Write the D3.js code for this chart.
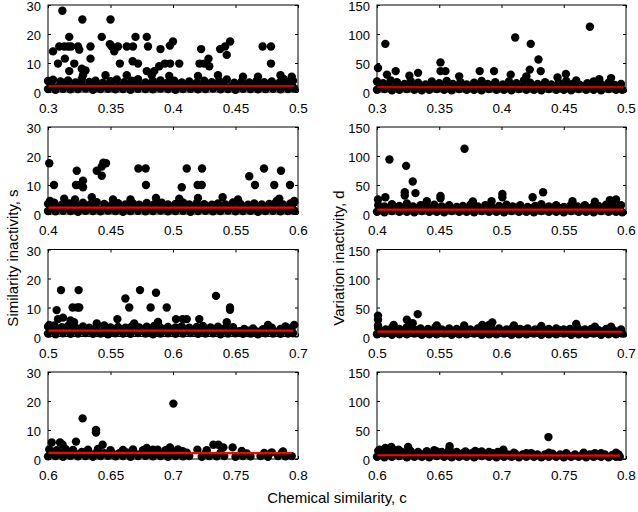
<!DOCTYPE html>
<html><head><meta charset="utf-8">
<script src="https://cdn.jsdelivr.net/npm/d3@7"></script>
<style>
body{margin:0;background:#fff}
svg{display:block}
text{font-family:Arial,"Liberation Sans",Helvetica,sans-serif}
</style>
</head><body>
<svg id="chart" width="638" height="512"></svg>
<script>
// ---------- axes / ticks ----------
const rowDomains = [[0.3,0.5],[0.4,0.6],[0.5,0.7],[0.6,0.8]];
const xTicks = [[0.3,0.35,0.4,0.45,0.5],[0.4,0.45,0.5,0.55,0.6],[0.5,0.55,0.6,0.65,0.7],[0.6,0.65,0.7,0.75,0.8]];
const xTickLabels = [["0.3","0.35","0.4","0.45","0.5"],["0.4","0.45","0.5","0.55","0.6"],["0.5","0.55","0.6","0.65","0.7"],["0.6","0.65","0.7","0.75","0.8"]];
const sTicks = [0,10,20,30];
const dTicks = [0,50,100,150];
const sMax = 30, dMax = 150;
const xTitle = "Chemical similarity, c";
const sTitle = "Similarity inactivity, s";
const dTitle = "Variation inactivity, d";

// ---------- fitted lines [x0,y0,x1,y1] ----------
const fitS = [[0.300,2.0,0.497,2.0],[0.400,2.2,0.597,2.2],[0.500,2.0,0.696,2.0],[0.600,2.1,0.795,2.0]];
const fitD = [[0.300,8.5,0.498,8.5],[0.400,7.5,0.598,7.5],[0.500,8.5,0.697,8.2],[0.600,6.5,0.795,5.8]];

// ---------- similarity inactivity s ----------
const s1 = [[0.300,1.0],[0.306,0.8],[0.312,1.1],[0.318,0.9],[0.324,1.0],[0.330,1.2],[0.336,0.8],[0.342,1.0],[0.348,1.1],[0.354,0.9],[0.360,1.0],[0.366,0.8],[0.372,1.1],[0.378,1.0],[0.384,0.9],[0.390,1.2],[0.396,1.0],[0.402,0.8],[0.408,1.0],[0.414,1.1],[0.420,0.9],[0.426,1.0],[0.432,1.2],[0.438,0.9],[0.444,1.0],[0.450,0.8],[0.456,1.1],[0.462,1.0],[0.468,0.9],[0.474,1.0],[0.480,1.1],[0.486,0.9],[0.492,1.0],[0.497,1.2],
[0.303,2.3],[0.309,2.1],[0.315,2.4],[0.321,2.2],[0.327,2.5],[0.333,2.0],[0.339,2.3],[0.345,2.2],[0.351,2.4],[0.357,2.1],[0.363,2.3],[0.369,2.5],[0.375,2.2],[0.381,2.0],[0.387,2.4],[0.393,2.2],[0.399,2.3],[0.405,2.1],[0.411,2.4],[0.417,2.2],[0.423,2.0],[0.429,2.3],[0.435,2.5],[0.441,2.2],[0.447,2.1],[0.453,2.4],[0.459,2.2],[0.465,2.0],[0.471,2.3],[0.477,2.2],[0.483,2.4],[0.489,2.1],[0.495,2.3],
[0.300,3.8],[0.304,4.2],[0.310,3.6],[0.316,4.0],[0.322,3.3],[0.327,4.5],[0.333,3.5],[0.338,3.9],[0.344,3.2],[0.350,3.7],[0.355,4.3],[0.361,3.4],[0.367,3.9],[0.372,4.4],[0.378,3.3],[0.384,3.8],[0.390,4.0],[0.396,3.4],[0.401,3.9],[0.407,3.3],[0.413,3.6],[0.419,3.2],[0.425,3.9],[0.431,3.4],[0.437,3.8],[0.443,4.3],[0.449,3.2],[0.455,3.6],[0.461,3.3],[0.467,3.9],[0.473,3.4],[0.479,3.6],[0.485,3.2],[0.491,3.5],[0.496,3.9],
[0.3115,28],[0.304,14],[0.3275,25],[0.350,25],[0.317,19],[0.343,19],[0.370,19],[0.379,19],[0.309,15.7],[0.313,15.7],[0.316,15.7],[0.3185,15.7],[0.324,15.7],[0.325,14.6],[0.334,15.7],[0.3495,16.5],[0.351,15.7],[0.353,14],[0.356,15.7],[0.363,15.7],[0.368,15.7],[0.380,15.7],[0.390,14.8],[0.3975,16],[0.400,17.4],[0.4225,14.8],[0.4377,14.8],[0.4417,15.7],[0.443,12.8],[0.4457,17.4],[0.4717,15.7],[0.4784,15.7],[0.4784,9.8],[0.3135,11.5],[0.308,9.8],[0.321,9.8],[0.317,7.2],[0.327,8],[0.330,7.4],[0.334,11.5],[0.3575,9.8],[0.3677,10.6],[0.372,9.8],[0.379,7.2],[0.385,7.2],[0.389,8.9],[0.3935,9.8],[0.3977,9.8],[0.405,9.8],[0.4212,9.8],[0.425,9.8],[0.4284,11.5],[0.429,8.9],[0.486,5.8],[0.4885,4.5],[0.328,5.8],[0.346,5.8],[0.363,5.8],[0.383,5.8],[0.397,5.5],[0.420,5.5],[0.436,5.8],[0.456,5.3],[0.468,5.3],[0.495,5.3]];

const s2 = [[0.400,1.0],[0.406,0.9],[0.412,1.1],[0.418,1.0],[0.424,0.8],[0.430,1.1],[0.436,1.0],[0.442,0.9],[0.448,1.2],[0.454,1.0],[0.460,0.8],[0.466,1.0],[0.472,1.1],[0.478,0.9],[0.484,1.0],[0.490,1.2],[0.496,0.9],[0.502,1.0],[0.508,1.1],[0.514,0.8],[0.520,1.0],[0.526,1.1],[0.532,0.9],[0.538,1.0],[0.544,1.2],[0.550,0.9],[0.556,1.0],[0.562,1.1],[0.568,0.8],[0.574,1.0],[0.580,1.1],[0.586,0.9],[0.592,1.0],[0.597,1.1],
[0.403,2.2],[0.409,2.4],[0.415,2.1],[0.421,2.3],[0.427,2.5],[0.433,2.2],[0.439,2.0],[0.445,2.4],[0.451,2.2],[0.457,2.3],[0.463,2.1],[0.469,2.4],[0.475,2.2],[0.481,2.0],[0.487,2.3],[0.493,2.5],[0.499,2.2],[0.505,2.1],[0.511,2.4],[0.517,2.2],[0.523,2.0],[0.529,2.3],[0.535,2.2],[0.541,2.4],[0.547,2.1],[0.553,2.3],[0.559,2.2],[0.565,2.0],[0.571,2.4],[0.577,2.2],[0.583,2.3],[0.589,2.1],[0.595,2.4],
[0.400,3.5],[0.405,3.9],[0.411,3.2],[0.417,3.6],[0.422,3.3],[0.428,3.9],[0.434,3.4],[0.439,4.1],[0.445,3.5],[0.451,3.2],[0.456,3.7],[0.462,3.3],[0.468,3.6],[0.473,3.2],[0.479,3.8],[0.485,3.4],[0.491,3.9],[0.496,3.3],[0.502,3.5],[0.508,4.0],[0.513,3.3],[0.519,3.7],[0.525,3.4],[0.531,3.2],[0.536,3.6],[0.542,3.3],[0.548,4.0],[0.554,3.5],[0.560,3.2],[0.565,3.6],[0.571,3.3],[0.577,3.5],[0.582,3.8],[0.588,3.3],[0.594,3.6],[0.597,4.0],
[0.401,17.5],[0.4048,10],[0.423,14.9],[0.4224,10],[0.4256,10],[0.428,11.5],[0.428,9.2],[0.4216,5],[0.439,14.9],[0.443,16.4],[0.4443,17.7],[0.4464,17.5],[0.443,13.2],[0.4723,15.7],[0.4781,15.7],[0.4784,10],[0.507,9.2],[0.511,15.7],[0.5197,10],[0.523,10],[0.5232,15.7],[0.561,13],[0.5656,10],[0.5728,15.7],[0.581,10],[0.5864,14.9],[0.5936,10],[0.4016,4.5],[0.435,5.8],[0.4864,5.5],[0.5397,5.8],[0.413,5.3],[0.452,5],[0.466,5],[0.505,5.3],[0.520,5.5],[0.552,5],[0.585,5.3],[0.597,4.5],[0.583,4.5]];

const s3 = [[0.500,1.0],[0.506,0.8],[0.512,1.1],[0.518,0.9],[0.524,1.0],[0.530,1.2],[0.536,0.9],[0.542,1.0],[0.548,0.8],[0.554,1.1],[0.560,1.0],[0.566,0.9],[0.572,1.2],[0.578,1.0],[0.584,0.8],[0.590,1.0],[0.596,1.1],[0.602,0.9],[0.608,1.0],[0.614,1.2],[0.620,0.9],[0.626,1.0],[0.632,1.1],[0.638,0.8],[0.644,1.0],[0.650,1.1],[0.656,0.9],[0.662,1.0],[0.668,0.8],[0.674,1.1],[0.680,1.0],[0.686,0.9],[0.692,1.0],[0.696,1.1],
[0.503,2.2],[0.509,2.4],[0.515,2.0],[0.521,2.3],[0.527,2.1],[0.533,2.4],[0.539,2.2],[0.545,2.0],[0.551,2.3],[0.557,2.1],[0.563,2.4],[0.569,2.2],[0.575,2.0],[0.581,2.3],[0.587,2.2],[0.593,2.4],[0.599,2.1],[0.605,2.3],[0.611,2.0],[0.617,2.2],[0.623,2.4],[0.629,2.1],[0.635,2.3],[0.641,2.0],[0.647,2.2],[0.653,1.8],[0.660,2.0],[0.667,1.7],[0.674,2.0],[0.681,1.8],[0.688,2.1],[0.695,1.9],
[0.500,3.4],[0.505,3.8],[0.511,3.2],[0.516,3.6],[0.522,3.1],[0.528,3.5],[0.533,3.0],[0.539,3.4],[0.545,3.8],[0.550,3.1],[0.556,3.3],[0.562,3.0],[0.567,3.5],[0.573,3.1],[0.579,3.4],[0.585,3.6],[0.590,3.0],[0.596,3.3],[0.602,3.1],[0.607,3.5],[0.613,3.0],[0.619,3.3],[0.624,3.6],[0.630,3.1],[0.636,3.4],[0.642,3.0],[0.648,3.2],[0.657,2.6],[0.664,2.8],[0.672,2.5],[0.679,3.0],[0.686,2.6],[0.693,2.8],
[0.5104,16],[0.5069,9.1],[0.5197,10],[0.5235,10],[0.525,10],[0.5245,16],[0.5208,4.9],[0.5619,13.1],[0.565,10],[0.5736,16],[0.5821,10],[0.5864,15.1],[0.595,10],[0.6344,14],[0.6456,10],[0.6456,9.2],[0.643,4.9],[0.501,4],[0.5555,6],[0.6024,6],[0.6077,6],[0.611,6],[0.621,6],[0.508,6],[0.512,6.5],[0.518,5.5],[0.539,4.5],[0.569,4.5],[0.588,5],[0.676,4],[0.690,3.5],[0.697,4]];

const s4 = [[0.600,0.9],[0.606,1.0],[0.612,0.8],[0.618,1.1],[0.624,0.9],[0.630,1.0],[0.636,0.8],[0.642,1.0],[0.648,1.1],[0.654,0.9],[0.660,1.0],[0.666,0.8],[0.672,1.0],[0.678,1.1],[0.684,0.9],[0.690,1.0],[0.696,0.8],[0.702,1.0],[0.708,0.9],[0.713,1.0],[0.723,0.8],[0.729,1.0],[0.735,0.9],[0.741,1.0],[0.750,0.8],[0.756,1.0],[0.762,0.9],[0.770,1.0],[0.776,0.8],[0.784,1.0],[0.790,0.9],[0.795,1.0],
[0.603,2.1],[0.609,2.3],[0.615,2.0],[0.621,2.2],[0.627,2.4],[0.633,2.1],[0.639,2.3],[0.645,2.0],[0.651,2.2],[0.657,2.0],[0.663,2.3],[0.669,2.1],[0.675,2.0],[0.681,2.2],[0.687,2.4],[0.693,2.1],[0.699,2.3],[0.705,2.0],[0.711,2.2],[0.726,2.0],[0.738,2.2],[0.759,1.9],[0.773,2.1],[0.787,2.0],
[0.601,3.3],[0.607,3.0],[0.614,3.5],[0.620,3.1],[0.632,3.2],[0.640,3.5],[0.650,3.0],[0.660,3.1],[0.668,3.3],[0.676,3.0],[0.684,3.2],[0.694,3.0],[0.704,3.3],[0.727,3.0],[0.755,2.8],[0.788,2.6],
[0.7003,19.1],[0.6277,14],[0.6384,10],[0.6384,9.1],[0.6437,4.9],[0.603,5.7],[0.6096,5.7],[0.6117,4.9],[0.6224,6],[0.679,3.8],[0.6976,4],[0.7323,4.9],[0.7363,4.9],[0.7403,4],[0.7477,4],[0.7195,3.2],[0.7077,2.7],[0.779,2.3],[0.6877,3.2]];

// ---------- variation inactivity d ----------
const d1 = [[0.300,4],[0.306,5],[0.312,3],[0.318,4],[0.324,5],[0.330,4],[0.336,3],[0.342,4],[0.348,5],[0.354,4],[0.360,3],[0.366,5],[0.372,4],[0.378,4],[0.384,3],[0.390,5],[0.396,4],[0.402,4],[0.408,3],[0.414,5],[0.420,4],[0.426,4],[0.432,3],[0.438,5],[0.444,4],[0.450,4],[0.456,3],[0.462,5],[0.468,4],[0.474,4],[0.480,3],[0.486,5],[0.492,4],[0.497,4],
[0.303,10],[0.309,11],[0.315,9],[0.321,10],[0.327,12],[0.333,10],[0.339,9],[0.345,11],[0.351,10],[0.357,9],[0.363,11],[0.369,10],[0.375,9],[0.381,11],[0.387,10],[0.393,12],[0.399,9],[0.405,10],[0.411,11],[0.417,10],[0.423,9],[0.429,11],[0.435,10],[0.441,9],[0.447,11],[0.453,10],[0.459,9],[0.465,10],[0.471,11],[0.477,9],[0.483,10],[0.489,11],[0.495,9],
[0.300,18],[0.305,15],[0.311,20],[0.316,17],[0.322,14],[0.327,19],[0.333,16],[0.339,13],[0.344,18],[0.350,15],[0.356,19],[0.361,14],[0.367,17],[0.372,13],[0.378,16],[0.384,19],[0.389,14],[0.395,17],[0.401,13],[0.406,18],[0.412,15],[0.418,20],[0.423,16],[0.429,14],[0.435,17],[0.440,13],[0.446,16],[0.452,19],[0.457,14],[0.463,12],[0.469,15],[0.474,18],[0.480,14],[0.486,16],[0.491,12],[0.496,14],
[0.3008,41.5],[0.3067,83],[0.351,51],[0.411,94],[0.4235,83],[0.4297,56],[0.4315,36],[0.471,112.5],[0.351,36],[0.355,36],[0.315,36],[0.333,33],[0.3825,36],[0.394,36],[0.4074,30],[0.4227,38.6],[0.4517,31],[0.460,20],[0.4785,22],[0.308,30],[0.326,28],[0.366,27],[0.420,27],[0.445,25],[0.488,24]];

const d2 = [[0.400,4],[0.406,3],[0.412,5],[0.418,4],[0.424,4],[0.430,3],[0.436,5],[0.442,4],[0.448,4],[0.454,3],[0.460,5],[0.466,4],[0.472,4],[0.478,3],[0.484,5],[0.490,4],[0.496,4],[0.502,3],[0.508,5],[0.514,4],[0.520,4],[0.526,3],[0.532,5],[0.538,4],[0.544,4],[0.550,3],[0.556,5],[0.562,4],[0.568,4],[0.574,3],[0.580,5],[0.586,4],[0.592,4],[0.597,3],
[0.403,10],[0.409,9],[0.415,11],[0.421,10],[0.427,9],[0.433,10],[0.439,11],[0.445,9],[0.451,10],[0.457,11],[0.463,9],[0.469,10],[0.475,10],[0.481,9],[0.487,11],[0.493,10],[0.499,9],[0.505,10],[0.511,11],[0.517,9],[0.523,10],[0.529,10],[0.535,9],[0.541,11],[0.547,10],[0.553,9],[0.559,10],[0.565,11],[0.571,9],[0.577,10],[0.583,10],[0.589,9],[0.595,11],
[0.401,15],[0.406,13],[0.412,17],[0.418,14],[0.424,18],[0.429,13],[0.435,15],[0.441,12],[0.446,16],[0.452,13],[0.458,15],[0.464,12],[0.469,14],[0.475,16],[0.481,13],[0.487,15],[0.492,12],[0.498,14],[0.504,16],[0.509,13],[0.515,15],[0.521,12],[0.527,14],[0.532,17],[0.538,13],[0.544,15],[0.550,12],[0.555,14],[0.561,13],[0.567,15],[0.573,12],[0.578,14],[0.584,16],[0.590,13],[0.596,15],
[0.410,94],[0.4234,83],[0.4287,56],[0.4309,36],[0.4703,112.5],[0.4223,37.5],[0.4223,32],[0.4067,29],[0.451,31],[0.451,27],[0.5007,34.6],[0.5007,29],[0.525,29],[0.5334,37.5],[0.4008,25],[0.592,25],[0.477,21.6],[0.440,22],[0.492,22],[0.557,22],[0.575,21],[0.587,24]];

const d3v = [[0.500,4],[0.506,5],[0.512,3],[0.518,4],[0.524,4],[0.530,5],[0.536,3],[0.542,4],[0.548,4],[0.554,5],[0.560,3],[0.566,4],[0.572,4],[0.578,5],[0.584,3],[0.590,4],[0.596,4],[0.602,5],[0.608,3],[0.614,4],[0.620,4],[0.626,5],[0.632,3],[0.638,4],[0.644,4],[0.650,5],[0.656,3],[0.662,4],[0.668,4],[0.674,5],[0.680,3],[0.686,4],[0.692,4],[0.697,5],
[0.503,10],[0.509,11],[0.515,9],[0.521,10],[0.527,11],[0.533,10],[0.539,9],[0.545,10],[0.551,11],[0.557,9],[0.563,10],[0.569,10],[0.575,11],[0.581,9],[0.587,10],[0.593,11],[0.599,10],[0.605,9],[0.611,10],[0.617,11],[0.623,9],[0.629,10],[0.635,10],[0.641,9],[0.647,11],[0.653,10],[0.659,9],[0.665,10],[0.671,9],[0.677,10],[0.683,9],[0.689,10],[0.695,9],
[0.501,14],[0.507,12],[0.512,15],[0.518,13],[0.524,16],[0.530,12],[0.535,14],[0.541,13],[0.547,16],[0.552,12],[0.558,14],[0.564,13],[0.570,15],[0.575,12],[0.581,14],[0.587,16],[0.592,13],[0.598,14],[0.604,12],[0.609,15],[0.615,13],[0.621,14],[0.627,12],[0.632,15],[0.638,13],[0.644,14],[0.650,12],[0.655,13],[0.661,15],[0.667,12],[0.672,13],[0.678,11],[0.684,13],[0.690,11],[0.696,12],
[0.5008,36],[0.5008,29],[0.5008,19],[0.524,29],[0.5327,38.6],[0.5287,23],[0.5134,20],[0.5926,24.4],[0.660,21.6],[0.5846,20],[0.590,20],[0.548,19],[0.570,19],[0.610,19],[0.632,18],[0.675,17],[0.688,17]];

const d4 = [[0.600,4],[0.606,3],[0.612,4],[0.618,5],[0.624,3],[0.630,4],[0.636,4],[0.642,3],[0.648,5],[0.654,4],[0.660,3],[0.666,4],[0.672,4],[0.678,3],[0.684,5],[0.690,4],[0.696,3],[0.702,4],[0.708,4],[0.714,3],[0.720,4],[0.726,4],[0.732,3],[0.738,4],[0.744,4],[0.750,3],[0.756,4],[0.762,4],[0.768,3],[0.774,4],[0.780,4],[0.786,3],[0.792,4],[0.795,4],
[0.603,10],[0.609,11],[0.615,9],[0.621,10],[0.627,11],[0.633,9],[0.639,10],[0.645,9],[0.651,10],[0.657,11],[0.663,9],[0.669,10],[0.675,9],[0.681,10],[0.687,9],[0.693,10],[0.699,9],[0.705,8],[0.711,9],[0.717,8],[0.723,9],[0.729,8],[0.735,8],[0.741,9],[0.747,8],[0.753,7],[0.759,8],[0.765,7],[0.771,8],[0.777,7],[0.783,8],[0.789,7],[0.794,8],
[0.601,14],[0.608,12],[0.614,15],[0.620,12],[0.627,14],[0.633,12],[0.640,13],[0.646,15],[0.652,12],[0.658,16],[0.664,12],[0.671,13],[0.677,11],[0.684,13],[0.690,11],[0.697,12],[0.710,11],[0.724,10],[0.738,11],[0.752,10],[0.766,11],[0.780,10],[0.792,11],
[0.7377,37.8],[0.7015,16.2],[0.6583,21.9],[0.602,16],[0.6067,19],[0.6115,20.7],[0.6174,16],[0.625,20.7],[0.640,13],[0.648,13],[0.6583,16],[0.679,14],[0.690,12],[0.720,10],[0.775,10]];

const sData = [s1,s2,s3,s4];
const dData = [d1,d2,d3v,d4];

// ---------- drawing ----------
const svg = d3.select("#chart");
const rowTop = [5,127,249.5,372];
const PH = 87;
const colX = [[48,298],[377,626]];
const fitColors = ["#c40000","#ff0000","#ff0000","#ff0000"];

function panel(r, c, pts, fit, yTicks, yMax) {
  const [x0,x1] = colX[c];
  const t = rowTop[r];
  const x = d3.scaleLinear().domain(rowDomains[r]).range([x0,x1]);
  const y = d3.scaleLinear().domain([0,yMax]).range([t+PH,t]);
  const g = svg.append("g");

  g.append("g").selectAll("circle").data(pts).join("circle")
    .attr("cx", d => x(d[0])).attr("cy", d => y(d[1]))
    .attr("r", 4.2).attr("fill", "#000");

  g.append("line")
    .attr("x1", x(fit[0])).attr("y1", y(fit[1]))
    .attr("x2", x(fit[2])).attr("y2", y(fit[3]))
    .attr("stroke", fitColors[r]).attr("stroke-width", 2.2);

  const style = (sel, fs) => {
    sel.select(".domain").remove();
    sel.selectAll("text").attr("font-family","Arial, 'Liberation Sans', sans-serif").attr("font-size",fs).attr("fill","#000");
    sel.attr("font-size",null).attr("font-family",null);
  };
  g.append("g").attr("transform",`translate(0,${t+PH})`)
    .call(d3.axisBottom(x).tickValues(xTicks[r]).tickFormat((d,i)=>xTickLabels[r][i]).tickSize(-3).tickPadding(11.5))
    .call(style, 13.5);
  g.append("g").attr("transform",`translate(0,${t})`)
    .call(d3.axisTop(x).tickValues(xTicks[r]).tickFormat("").tickSize(-3))
    .call(style, 13);
  g.append("g").attr("transform",`translate(${x0},0)`)
    .call(d3.axisLeft(y).tickValues(yTicks).tickFormat(d3.format("d")).tickSize(-3).tickPadding(7))
    .call(style, 13)
    .selectAll("text").attr("dy","0.45em");
  g.append("g").attr("transform",`translate(${x1},0)`)
    .call(d3.axisRight(y).tickValues(yTicks).tickFormat("").tickSize(-3))
    .call(style, 13);

  g.append("rect").attr("x",x0).attr("y",t).attr("width",x1-x0).attr("height",PH)
    .attr("fill","none").attr("stroke","#000").attr("stroke-width",1);
}

for (let r = 0; r < 4; r++) {
  panel(r, 0, sData[r], fitS[r], sTicks, sMax);
  panel(r, 1, dData[r], fitD[r], dTicks, dMax);
}

svg.append("text").attr("transform","translate(12,258) rotate(-90)")
  .attr("text-anchor","middle").attr("dominant-baseline","central")
  .attr("font-size",15).text(sTitle);
svg.append("text").attr("transform","translate(338,258) rotate(-90)")
  .attr("text-anchor","middle").attr("dominant-baseline","central")
  .attr("font-size",15).text(dTitle);
svg.append("text").attr("x",337).attr("y",497)
  .attr("text-anchor","middle").attr("dominant-baseline","central")
  .attr("font-size",15).text(xTitle);
</script>
</body></html>
